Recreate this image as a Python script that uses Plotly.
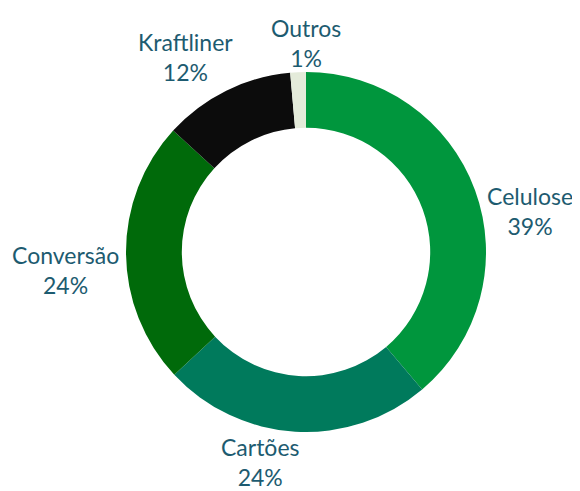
import plotly.graph_objects as go

# share of each segment (%)
segments = ["Celulose", "Cartões", "Conversão", "Kraftliner", "Outros"]
shares = [38.8, 24.2, 23.7, 11.8, 1.4]
pct_labels = ["39%", "24%", "24%", "12%", "1%"]
colors = ["#00963d", "#007a5c", "#006a0a", "#0c0c0c", "#e4ebda"]

# the page body keeps its default 8px margin, so the figure is 8px smaller
W, H = 572, 483

# where each data label sits (pixels from top-left of the figure)
label_px = [522, 252, 57, 177.5, 298]
label_py = [203, 454, 262, 49, 35]

text_color = "#1d5b70"

fig = go.Figure()
fig.add_trace(go.Pie(
    labels=segments,
    values=shares,
    hole=0.69,
    sort=False,
    direction="clockwise",
    rotation=0,
    marker=dict(colors=colors, line=dict(width=0)),
    textinfo="none",
    hoverinfo="label+percent",
    domain=dict(x=[118 / W, 478 / W], y=[59 / H, 419 / H]),
    showlegend=False,
))

for name, pct, x, y in zip(segments, pct_labels, label_px, label_py):
    fig.add_annotation(
        x=x / W, y=1 - y / H, xref="paper", yref="paper",
        text=name + "<br>" + pct,
        showarrow=False,
        xanchor="center", yanchor="middle",
        font=dict(family="Lato, Open Sans, sans-serif", size=23, color=text_color),
    )

fig.update_layout(
    width=W,
    height=H,
    margin=dict(l=0, r=0, t=0, b=0),
    paper_bgcolor="white",
    plot_bgcolor="white",
)

fig.write_html("out.html")
